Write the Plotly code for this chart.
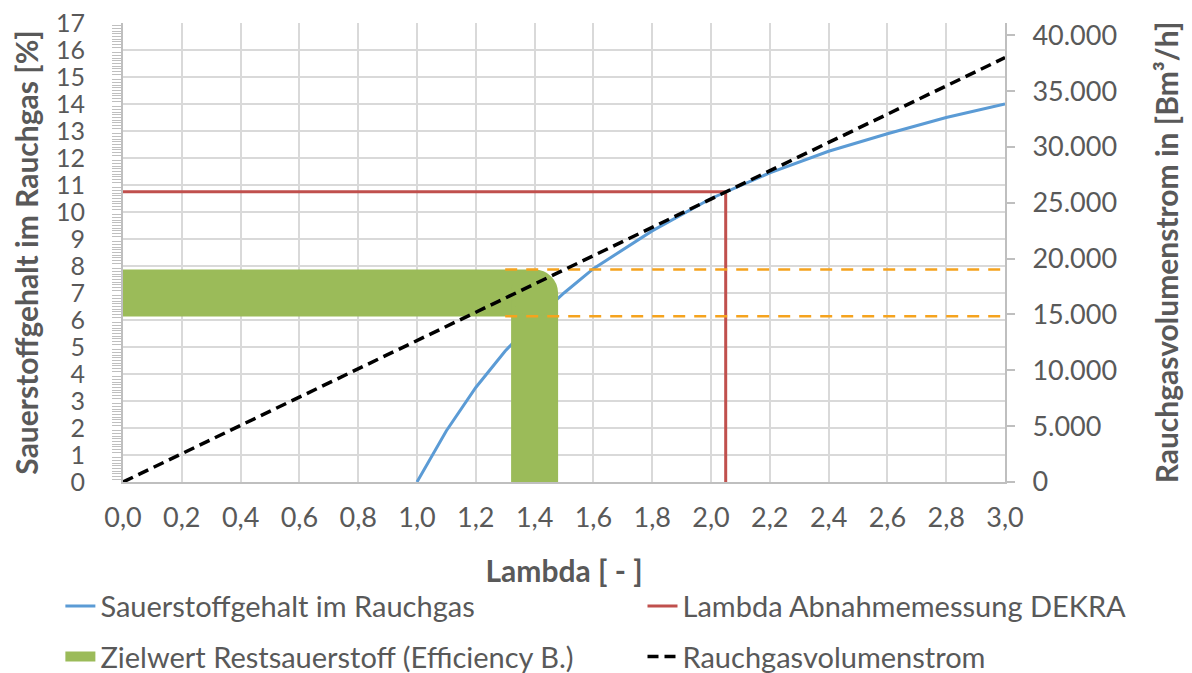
import plotly.graph_objects as go

# Sauerstoffgehalt im Rauchgas (left axis, %)
lambda_o2 = [1.0, 1.1, 1.2, 1.3, 1.4, 1.5, 1.6, 1.8, 2.0, 2.2, 2.4, 2.6, 2.8, 3.0]
o2_percent = [0.0, 1.9, 3.5, 4.85, 6.0, 7.0, 7.9, 9.3, 10.5, 11.45, 12.25, 12.9, 13.5, 14.0]

# Lambda Abnahmemessung DEKRA
lambda_dekra_x = [0.0, 2.05, 2.05]
lambda_dekra_y = [10.75, 10.75, 0.0]

# Zielwert Restsauerstoff (Efficiency B.)
zielwert_x = [0.0, 1.4, 1.4]
zielwert_y = [7.0, 7.0, 0.0]

# Zielband (orange dashed limits)
band_x = [1.3, 3.0]
band_upper = [7.87, 7.87]
band_lower = [6.14, 6.14]

# Rauchgasvolumenstrom (right axis, Bm³/h)
lambda_vol = [0.0, 3.0]
volumenstrom = [0, 38000]

FONT = "Lato"
GREY = "#595959"
GRID = "#D9D9D9"
GREEN = "#9BBB59"
GREEN_W = 47

fig = go.Figure()

fig.add_trace(go.Scatter(
    x=lambda_o2, y=o2_percent, mode="lines",
    name="Sauerstoffgehalt im Rauchgas",
    line=dict(color="#5B9BD5", width=3),
    legend="legend",
))
fig.add_trace(go.Scatter(
    x=lambda_dekra_x, y=lambda_dekra_y, mode="lines",
    name="Lambda Abnahmemessung DEKRA",
    line=dict(color="#C0504D", width=3),
    legend="legend2",
))
# thick green "L": two straight pieces plus a round corner
fig.add_trace(go.Scatter(
    x=zielwert_x[:2], y=zielwert_y[:2], mode="lines",
    name="Zielwert Restsauerstoff (Efficiency B.)",
    line=dict(color=GREEN, width=GREEN_W),
    legend="legend3",
))
fig.add_trace(go.Scatter(
    x=zielwert_x[1:], y=zielwert_y[1:], mode="lines", showlegend=False,
    line=dict(color=GREEN, width=GREEN_W),
))
fig.add_trace(go.Scatter(
    x=zielwert_x[1:2], y=zielwert_y[1:2], mode="markers", showlegend=False,
    marker=dict(color=GREEN, size=GREEN_W, line=dict(width=0)),
))
for yy in (band_upper, band_lower):
    fig.add_trace(go.Scatter(
        x=band_x, y=yy, mode="lines", showlegend=False,
        line=dict(color="#F5A31E", width=2.5, dash="12px,9px"),
    ))
fig.add_trace(go.Scatter(
    x=lambda_vol, y=volumenstrom, mode="lines", yaxis="y2",
    name="Rauchgasvolumenstrom",
    line=dict(color="black", width=3.5, dash="11px,6px"),
    legend="legend4",
))

leg = dict(
    orientation="h", xanchor="left", yanchor="top",
    font=dict(family=FONT, size=29, color=GREY),
    bgcolor="rgba(0,0,0,0)",
)
col1, col2 = -0.071, 0.589
row1, row2 = -0.215, -0.325

# the page body adds an 8px offset, so the figure is 8px smaller
fig.update_layout(
    width=1184, height=665,
    margin=dict(l=115, r=187, t=15, b=191, autoexpand=False),
    plot_bgcolor="white", paper_bgcolor="white",
    separators=",.",
    font=dict(family=FONT, size=27, color=GREY),
    xaxis=dict(
        range=[0, 3], dtick=0.2, tickformat=".1f", automargin=False,
        showgrid=True, gridcolor=GRID, gridwidth=2,
        zeroline=False, showline=True, linecolor="#BFBFBF", linewidth=2,
        ticks="", ticklabelstandoff=11,
        title=dict(text="<b>Lambda [ - ]</b>", standoff=29,
                   font=dict(family=FONT, size=30, color=GREY)),
    ),
    yaxis=dict(
        range=[0, 17], dtick=1, automargin=False,
        showgrid=True, gridcolor=GRID, gridwidth=2,
        zeroline=False, showline=True, linecolor="#BFBFBF", linewidth=2,
        ticks="", ticklabelstandoff=31, ticklabeloverflow="allow",
        tickfont=dict(family=FONT, size=25, color=GREY),
        minor=dict(dtick=0.1, ticks="outside", ticklen=9, tickcolor="#BFBFBF",
                   tickwidth=1, showgrid=False),
        title=dict(text="<b>Sauerstoffgehalt im Rauchgas [%]</b>", standoff=21,
                   font=dict(family=FONT, size=30, color=GREY)),
    ),
    yaxis2=dict(
        overlaying="y", side="right", range=[0, 41100], dtick=5000,
        tickformat=",", showgrid=False, zeroline=False, automargin=False,
        showline=True, linecolor="#BFBFBF", linewidth=2,
        ticks="outside", ticklen=8, tickcolor="#BFBFBF", tickwidth=2,
        ticklabelstandoff=12, ticklabeloverflow="allow",
        title=dict(text="<b>Rauchgasvolumenstrom in [Bm³/h]</b>", standoff=41,
                   font=dict(family=FONT, size=30, color=GREY)),
    ),
    legend=dict(x=col1, y=row1, **leg),
    legend2=dict(x=col2, y=row1, **leg),
    legend3=dict(x=col1, y=row2, **leg),
    legend4=dict(x=col2, y=row2, **leg),
)

fig.write_html("out.html")
